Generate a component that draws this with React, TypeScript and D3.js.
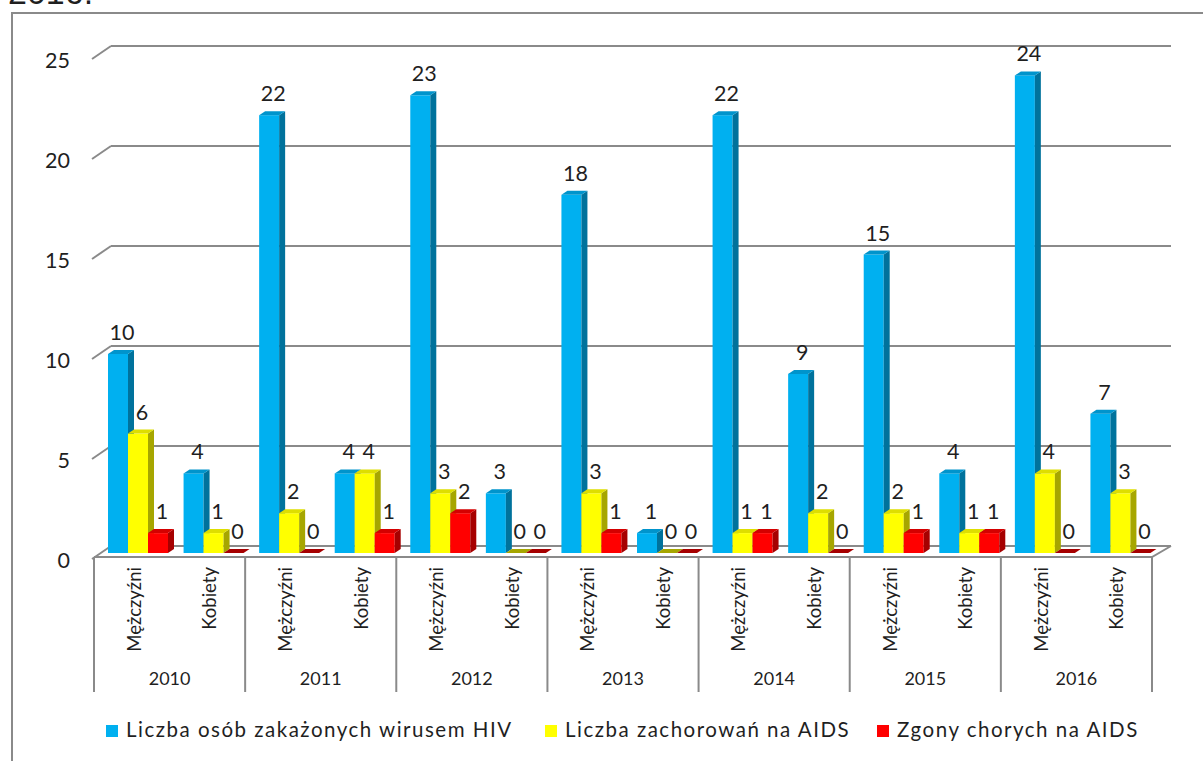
import React, { useEffect, useRef } from 'react';
import * as d3 from 'd3';

const title = '2016.';
const years = ['2010', '2011', '2012', '2013', '2014', '2015', '2016'];
const sexes = ['Mężczyźni', 'Kobiety'];
const seriesNames = [
  'Liczba osób zakażonych wirusem HIV',
  'Liczba zachorowań na AIDS',
  'Zgony chorych na AIDS',
];
const hiv = [10, 4, 22, 4, 23, 3, 18, 1, 22, 9, 15, 4, 24, 7];
const aids = [6, 1, 2, 4, 3, 0, 3, 0, 1, 2, 2, 1, 4, 3];
const deaths = [1, 0, 0, 1, 2, 0, 1, 0, 1, 0, 1, 1, 0, 0];
const yTicks = [0, 5, 10, 15, 20, 25];

const frontColors = ['#00b0f0', '#ffff00', '#ff0000'];
const sideColors = ['#00729c', '#a6a600', '#a60000'];
const topColors = ['#0094cc', '#dede00', '#d40000'];

const FONT = 'Lato, "Open Sans", sans-serif';
const TEXT = '#1f1f1f';
const GRID = '#8a8a8a';

export default function App() {
  const ref = useRef<SVGSVGElement>(null);

  useEffect(() => {
    const svg = d3.select(ref.current);
    svg.selectAll('*').remove();

    const series = [hiv, aids, deaths];
    const cats = years.flatMap((y) => sexes.map((s) => `${y}|${s}`));

    const x0 = 94;
    const x1 = 1152;
    const x = d3.scaleBand<string>().domain(cats).range([x0, x1]).padding(0);
    const xYear = d3.scaleBand<string>().domain(years).range([x0, x1]).padding(0);

    const yBack = d3.scaleLinear().domain([0, 25]).range([546, 46]);
    const yBar = d3.scaleLinear().domain([0, 25]).range([553, 553 - 25 * 19.9]);
    const DX = 18;
    const DY = 12;
    const bdx = 6;
    const bdy = 4;
    const barW = 20;
    const barOff = 14;

    // outer border
    svg.append('rect').attr('x', 12).attr('y', 13).attr('width', 1300).attr('height', 900)
      .attr('fill', 'none').attr('stroke', GRID).attr('stroke-width', 2);

    // title (cropped, as in the reference)
    svg.append('text').attr('x', 8).attr('y', 4).attr('font-family', 'Liberation Sans, Arial, sans-serif')
      .attr('font-size', 34).attr('fill', TEXT).text(title);

    // gridlines on back wall + diagonal ticks
    const g = svg.append('g');
    yTicks.forEach((t) => {
      const yb = yBack(t);
      g.append('line').attr('x1', x0 + DX - 1).attr('x2', x1 + DX + 1).attr('y1', yb).attr('y2', yb)
        .attr('stroke', GRID).attr('stroke-width', 2);
      g.append('line').attr('x1', x0 - 2).attr('y1', yb + DY + 1).attr('x2', x0 + DX - 1).attr('y2', yb)
        .attr('stroke', GRID).attr('stroke-width', 2);
      g.append('text').attr('x', 70).attr('y', yb + DY + 2).attr('text-anchor', 'end')
        .attr('dominant-baseline', 'central').attr('font-family', FONT).attr('font-size', 21.5)
        .attr('fill', TEXT).text(String(t));
    });

    // floor
    const yf = yBack(0) + DY - 1;
    g.append('path')
      .attr('d', `M${x0},${yf} L${x1},${yf} L${x1 + DX + 1},${yBack(0)}`)
      .attr('fill', 'none').attr('stroke', GRID).attr('stroke-width', 2);

    // bars
    const bars = svg.append('g');
    cats.forEach((c, i) => {
      const bx = (x(c) as number) + barOff;
      series.forEach((vals, s) => {
        const v = vals[i];
        const xl = bx + s * barW;
        const xr = xl + barW;
        const yt = yBar(v);
        const yb = yBar(0);
        if (v > 0) {
          bars.append('rect').attr('x', xl).attr('y', yt).attr('width', barW).attr('height', yb - yt)
            .attr('fill', frontColors[s]);
          bars.append('path')
            .attr('d', `M${xr},${yt} L${xr + bdx},${yt - bdy} L${xr + bdx},${yb - bdy} L${xr},${yb} Z`)
            .attr('fill', sideColors[s]);
        }
        bars.append('path')
          .attr('d', `M${xl},${yt} L${xr},${yt} L${xr + bdx},${yt - bdy} L${xl + bdx},${yt - bdy} Z`)
          .attr('fill', v > 0 ? topColors[s] : sideColors[s]);
      });
    });

    // value labels
    cats.forEach((c, i) => {
      const bx = (x(c) as number) + barOff;
      series.forEach((vals, s) => {
        const v = vals[i];
        bars.append('text')
          .attr('x', bx + s * barW + barW / 2 + 4)
          .attr('y', yBar(v) - 22)
          .attr('text-anchor', 'middle').attr('dominant-baseline', 'central')
          .attr('font-family', FONT).attr('font-size', 21.5).attr('fill', TEXT)
          .text(String(v));
      });
    });

    // category axis
    const ax = svg.append('g');
    years.forEach((yr) => {
      const xs = xYear(yr) as number;
      ax.append('line').attr('x1', xs).attr('x2', xs).attr('y1', yf).attr('y2', 692)
        .attr('stroke', GRID).attr('stroke-width', 2);
      ax.append('text').attr('x', xs + xYear.bandwidth() / 2).attr('y', 678)
        .attr('text-anchor', 'middle').attr('dominant-baseline', 'central')
        .attr('font-family', FONT).attr('font-size', 18).attr('fill', TEXT).text(yr);
    });
    ax.append('line').attr('x1', x1).attr('x2', x1).attr('y1', yf).attr('y2', 692)
      .attr('stroke', GRID).attr('stroke-width', 2);
    cats.forEach((c) => {
      const cx = (x(c) as number) + x.bandwidth() / 2 + 2;
      ax.append('text').attr('transform', `translate(${cx},567) rotate(-90)`)
        .attr('text-anchor', 'end').attr('dominant-baseline', 'central')
        .attr('font-family', FONT).attr('font-size', 18.5).attr('fill', TEXT).text(c.split('|')[1]);
    });

    // legend
    const lg = svg.append('g');
    const legendX = [106, 545, 877];
    seriesNames.forEach((n, s) => {
      lg.append('rect').attr('x', legendX[s]).attr('y', 725).attr('width', 12).attr('height', 12)
        .attr('fill', frontColors[s]);
      lg.append('text').attr('x', legendX[s] + 20).attr('y', 737)
        .attr('font-family', FONT).attr('font-size', 20.5).attr('letter-spacing', 1.5)
        .attr('fill', TEXT).text(n);
    });
  }, []);

  return (
    <svg
      ref={ref}
      width={1203}
      height={761}
      style={{ position: 'absolute', left: 0, top: 0, background: '#fff' }}
    />
  );
}
